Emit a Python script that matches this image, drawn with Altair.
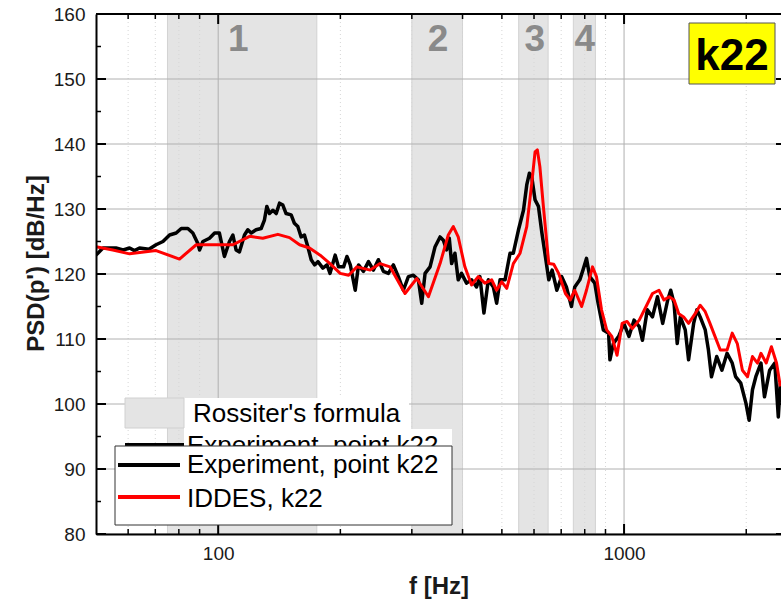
import altair as alt
import pandas as pd

# ---------------- data ----------------
exp_f = [50, 52, 56, 58.3, 60.5, 62.2, 64, 67.5, 70.3, 73.1, 75.9, 78.8, 81.1, 84.2, 86.6, 89.1, 90, 91.7, 95.2, 98,
         100.7, 103.6, 106.6, 108.7, 110.7, 112.8, 116.1, 118.3, 120.6, 124, 127.6, 130, 131.8, 133.8, 136.4, 139,
         141.6, 144.3, 147, 151.3, 154.1, 157.1, 160.1, 163.1, 166.3, 169.5, 172.8, 176.1, 181.1, 185.4, 188.6, 194.2,
         197.9, 203.7, 207.6, 211.6, 217.6, 221.7, 228, 234.6, 241.3, 248.1, 255.3, 262.6, 270.2, 277.9, 285.9, 294.2,
         302.6, 311.3, 317.3, 323.4, 332.7, 342.3, 352.1, 358.7, 365.5, 371, 376, 383.1, 390.3, 397.7, 409.2, 421,
         433.1, 441.4, 451.6, 463, 476.3, 485.4, 494.9, 509.1, 523.7, 533.6, 549.4, 565.2, 575.8, 584.5, 592.2, 603.6,
         615.3, 627.5, 640, 652.4, 665, 683, 702, 721, 742, 756, 778, 792, 808, 823, 847, 863, 889, 916, 923, 941, 970,
         999, 1028, 1058, 1090, 1110, 1141, 1175, 1209, 1245, 1281, 1303, 1328, 1352, 1376, 1415, 1442, 1484, 1512,
         1540, 1585, 1614, 1642, 1692, 1742, 1794, 1847, 1883, 1939, 1997, 2033, 2072, 2112, 2174, 2218, 2284, 2352,
         2399, 2427]
exp_psd = [122.9, 124.0, 124.0, 123.7, 124.0, 123.6, 124.0, 123.8, 124.5, 125.0, 126.0, 126.3, 127.0, 127.0, 126.3,
           124.7, 123.7, 125.0, 125.5, 126.3, 126.3, 122.7, 125.0, 126.0, 123.7, 123.4, 126.0, 126.8, 126.3, 126.8,
           127.0, 128.3, 130.4, 129.3, 129.8, 129.3, 130.9, 130.6, 129.3, 129.1, 127.8, 127.3, 125.7, 126.0, 124.2,
           122.2, 121.4, 121.9, 120.9, 121.4, 120.1, 122.9, 121.1, 121.1, 122.7, 121.4, 117.5, 121.4, 120.4, 121.9,
           120.6, 122.2, 120.4, 120.1, 121.4, 119.6, 117.5, 119.6, 119.8, 119.1, 115.5, 120.1, 121.1, 124.2, 125.7,
           125.2, 123.7, 125.5, 121.6, 123.2, 119.1, 120.1, 118.6, 119.1, 118.0, 119.6, 114.0, 119.1, 118.0, 115.5,
           119.1, 119.1, 123.2, 123.2, 126.8, 129.8, 133.7, 135.5, 135.0, 131.4, 130.4, 126.3, 122.7, 119.1, 120.6,
           117.5, 119.6, 118.0, 115.0, 118.0, 119.1, 120.6, 122.4, 119.6, 118.6, 115.5, 111.4, 110.9, 106.8, 109.3,
           110.4, 112.4, 110.4, 112.9, 111.9, 109.8, 114.5, 113.4, 116.5, 112.4, 116.0, 117.5, 115.5, 109.3, 113.4,
           111.4, 106.8, 112.4, 114.5, 113.4, 111.4, 108.3, 104.2, 107.3, 105.2, 107.8, 106.3, 104.2, 103.2, 100.1,
           97.5, 102.2, 104.2, 106.3, 101.1, 105.2, 106.3, 98.0, 103.2]

les_f = [50, 55, 60.5, 70.3, 80.3, 88.3, 91.7, 108.7, 119.5, 128.8, 140.3, 149.9, 158.7, 167.9, 178.3, 188.6, 199.8,
         209.6, 219.7, 236.9, 250.5, 265.1, 288.6, 308.5, 329.6, 352.1, 368.9, 379.6, 390.3, 405.3, 421, 437.2, 454.1,
         472, 485.4, 499.7, 514, 533.6, 554.4, 575.8, 592.2, 603.6, 611.5, 620.3, 632.7, 652.4, 671, 690, 717, 737,
         756, 786, 808, 836, 855, 880, 906, 933, 961, 989, 1017, 1048, 1090, 1133, 1175, 1219, 1254, 1292, 1328,
         1364, 1402, 1442, 1497, 1540, 1585, 1628, 1675, 1726, 1794, 1847, 1901, 1957, 2015, 2072, 2132, 2174, 2240,
         2307, 2375, 2427]
les_psd = [124.2, 123.7, 123.1, 123.6, 122.3, 124.5, 124.5, 124.5, 125.8, 125.5, 126.1, 125.6, 124.5, 124.0, 122.9,
           121.6, 120.1, 119.8, 121.1, 120.6, 121.6, 121.1, 117.0, 119.3, 116.5, 121.6, 126.0, 127.3, 125.7, 121.1,
           118.3, 119.6, 118.6, 119.1, 117.5, 118.8, 117.8, 121.6, 123.2, 127.3, 133.9, 138.8, 139.1, 136.5, 130.4,
           121.6, 121.5, 120.1, 117.0, 116.0, 117.5, 115.0, 117.5, 121.1, 119.6, 114.5, 111.4, 110.4, 107.5, 112.4,
           112.7, 111.6, 112.9, 115.0, 117.0, 117.5, 116.0, 116.5, 116.0, 113.9, 113.4, 112.4, 113.9, 115.2, 114.2,
           112.4, 110.4, 108.3, 108.3, 110.9, 109.3, 105.2, 104.2, 107.3, 106.3, 107.8, 106.3, 108.8, 106.3, 102.7]

band_lo = [75, 300, 550, 750]
band_hi = [175, 400, 650, 850]
band_mid = [112, 348, 603, 800]
band_label = ["1", "2", "3", "4"]

y_major = [80, 90, 100, 110, 120, 130, 140, 150, 160]
y_minor = [85, 95, 105, 115, 125, 135, 145, 155]
x_major = [100, 1000]
x_minor = [60, 70, 80, 90, 200, 300, 400, 500, 600, 700, 800, 900, 2000]

SER_EXP = "Experiment, point k22"
SER_LES = "IDDES, k22"
ROSS = "Rossiter's formula"

# ---------------- layout ----------------
W, H = 685, 520
FONT = "Liberation Sans"

xscale = alt.Scale(type="log", domain=[50, 2436], nice=False)
yscale = alt.Scale(domain=[80, 160], nice=False)

xaxis = alt.Axis(values=x_major, format="d", title="f [Hz]", grid=False, tickSize=0, labelPadding=10,
                 labelFontSize=19, labelFont=FONT, labelColor="#1a1a1a", titleFont=FONT, titleFontSize=24,
                 titleFontWeight="bold", titleColor="#1a1a1a", titleY=59, titleBaseline="alphabetic",
                 domainColor="black", domainWidth=2, zindex=1, labelFlush=False)
yaxis = alt.Axis(values=y_major, title="PSD(p') [dB/Hz]", grid=False, tickSize=0, labelPadding=11,
                 labelFontSize=19, labelFont=FONT, labelColor="#1a1a1a", titleFont=FONT, titleFontSize=24,
                 titleFontWeight="bold", titleColor="#1a1a1a", titleX=-53, titleY=249, titleAlign="center",
                 titleBaseline="alphabetic", titleAngle=270, domainColor="black", domainWidth=2, zindex=1)

bands_df = pd.DataFrame({"lo": band_lo, "hi": band_hi, "kind": [ROSS] * 4})
bands = alt.Chart(bands_df).mark_rect(fill="#e4e4e4", stroke="#d2d2d2", strokeWidth=1).encode(
    x=alt.X("lo:Q", scale=xscale, axis=xaxis),
    x2="hi:Q",
    y=alt.value(0),
    y2=alt.value(H),
)

xmin_df = pd.DataFrame({"v": x_minor})
xmaj_df = pd.DataFrame({"v": x_major})
ymaj_df = pd.DataFrame({"v": y_major})
ymin_df = pd.DataFrame({"v": y_minor})

vgrid_minor = alt.Chart(xmin_df).mark_rule(color="#d6d6d6", strokeWidth=1, strokeDash=[1, 3]).encode(
    x=alt.X("v:Q", scale=xscale, axis=xaxis))
vgrid_major = alt.Chart(xmaj_df).mark_rule(color="#b0b0b0", strokeWidth=1).encode(
    x=alt.X("v:Q", scale=xscale, axis=xaxis))
hgrid = alt.Chart(ymaj_df).mark_rule(color="#b0b0b0", strokeWidth=1).encode(
    y=alt.Y("v:Q", scale=yscale, axis=yaxis))

# inward ticks on all four sides
tick_layers = []
for df, ln, sw in [(ymaj_df, 10, 2), (ymin_df, 5, 1.5)]:
    tick_layers.append(alt.Chart(df).mark_rule(color="black", strokeWidth=sw).encode(
        y=alt.Y("v:Q", scale=yscale, axis=yaxis), x=alt.value(0), x2=alt.value(ln)))
    tick_layers.append(alt.Chart(df).mark_rule(color="black", strokeWidth=sw).encode(
        y=alt.Y("v:Q", scale=yscale, axis=yaxis), x=alt.value(W + 5), x2=alt.value(W + 5 - ln)))
for df, ln, sw in [(xmaj_df, 10, 2), (xmin_df, 5, 1.5)]:
    tick_layers.append(alt.Chart(df).mark_rule(color="black", strokeWidth=sw).encode(
        x=alt.X("v:Q", scale=xscale, axis=xaxis), y=alt.value(H), y2=alt.value(H - ln)))
    tick_layers.append(alt.Chart(df).mark_rule(color="black", strokeWidth=sw).encode(
        x=alt.X("v:Q", scale=xscale, axis=xaxis), y=alt.value(0), y2=alt.value(ln)))

one = pd.DataFrame({"a": [0]})
top_line = alt.Chart(one).mark_rule(color="black", strokeWidth=2).encode(
    x=alt.value(0), x2=alt.value(W), y=alt.value(0))

stroke_scale = alt.Scale(domain=[SER_EXP, SER_LES], range=["black", "red"])

exp_df = pd.DataFrame({"f": exp_f, "psd": exp_psd, "series": SER_EXP})
les_df = pd.DataFrame({"f": les_f, "psd": les_psd, "series": SER_LES})

exp_line = alt.Chart(exp_df).mark_line(strokeWidth=3.5, clip=True, strokeJoin="round").encode(
    x=alt.X("f:Q", scale=xscale, axis=xaxis),
    y=alt.Y("psd:Q", scale=yscale, axis=yaxis),
    stroke=alt.Stroke("series:N", scale=stroke_scale, legend=None),
)
les_line = alt.Chart(les_df).mark_line(strokeWidth=3, clip=True, strokeJoin="round").encode(
    x=alt.X("f:Q", scale=xscale, axis=xaxis),
    y=alt.Y("psd:Q", scale=yscale, axis=yaxis),
    stroke=alt.Stroke("series:N", scale=stroke_scale, legend=None),
)

lab_df = pd.DataFrame({"mid": band_mid, "lab": band_label})
band_text = alt.Chart(lab_df).mark_text(font=FONT, fontSize=37, fontWeight="bold", color="#8a8a8a",
                                        baseline="middle", align="center").encode(
    x=alt.X("mid:Q", scale=xscale, axis=xaxis), y=alt.value(26), text="lab:N")

k_box = alt.Chart(one).mark_rect(fill="#ffff00", stroke="#555555", strokeWidth=1).encode(
    x=alt.value(593), x2=alt.value(679), y=alt.value(9), y2=alt.value(70))
k_text = alt.Chart(one).mark_text(text="k22", font=FONT, fontSize=44, fontWeight="bold", color="black",
                                  align="center", baseline="alphabetic").encode(
    x=alt.value(636), y=alt.value(56))

# ---- legend drawn as annotation: upper (partly hidden) legend ----
legA_bg = alt.Chart(one).mark_rect(fill="white").encode(
    x=alt.value(88), x2=alt.value(313), y=alt.value(384), y2=alt.value(415))
legA_bg2 = alt.Chart(one).mark_rect(fill="white").encode(
    x=alt.value(88), x2=alt.value(356), y=alt.value(415), y2=alt.value(434))
legA_sym = alt.Chart(one).mark_rect(fill="#e4e4e4", stroke="#d0d0d0", strokeWidth=1).encode(
    x=alt.value(29), x2=alt.value(88), y=alt.value(384), y2=alt.value(414))
legA_txt = alt.Chart(one).mark_text(text=ROSS, font=FONT, fontSize=26, color="black",
                                    align="left", baseline="alphabetic").encode(
    x=alt.value(97), y=alt.value(408))
hid_line = alt.Chart(one).mark_rule(color="black", strokeWidth=4).encode(
    x=alt.value(29), x2=alt.value(88), y=alt.value(431))
hid_text = alt.Chart(one).mark_text(text=SER_EXP, font=FONT, fontSize=26, color="black",
                                    align="left", baseline="alphabetic").encode(
    x=alt.value(91), y=alt.value(440))

# ---- lower legend (on top) ----
legB_box = alt.Chart(one).mark_rect(fill="white", stroke="#333333", strokeWidth=1).encode(
    x=alt.value(19), x2=alt.value(356), y=alt.value(432), y2=alt.value(511))
leg_df = pd.DataFrame({"series": [SER_EXP, SER_LES], "ly": [451, 483], "ty": [459, 493]})
legB_lines = alt.Chart(leg_df).mark_rule(strokeWidth=4).encode(
    x=alt.value(22), x2=alt.value(84), y=alt.Y("ly:Q", scale=None),
    stroke=alt.Stroke("series:N", scale=stroke_scale, legend=None))
legB_text = alt.Chart(leg_df).mark_text(font=FONT, fontSize=26, color="black", align="left",
                                        baseline="alphabetic").encode(
    x=alt.value(91), y=alt.Y("ty:Q", scale=None), text="series:N")

chart = alt.layer(
    bands, vgrid_minor, vgrid_major, hgrid, *tick_layers, top_line,
    exp_line, les_line, band_text, k_box, k_text,
    legA_bg, legA_bg2, legA_sym, legA_txt, hid_line, hid_text,
    legB_box, legB_lines, legB_text
).properties(
    width=W, height=H,
    padding={"left": 96, "top": 14, "right": 0, "bottom": 66},
    autosize=alt.AutoSizeParams(type="none"),
    background="white",
).configure_view(stroke=None).configure(font=FONT)

chart.save("out.html", embed_options={"renderer": "svg", "actions": False})
